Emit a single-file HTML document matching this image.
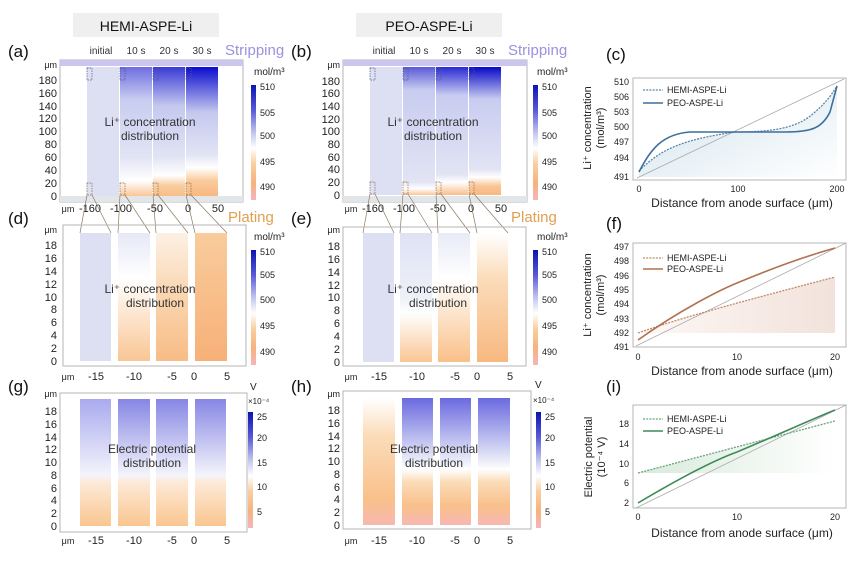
<!DOCTYPE html>
<html><head><meta charset="utf-8"><style>
html,body{margin:0;padding:0;background:#fff;}
svg{display:block;font-family:"Liberation Sans",Arial,sans-serif;}
.t{font-size:11px;fill:#222;}
.ts{font-size:10px;fill:#333;}
.c{font-size:9px;fill:#222;}
.lab{font-size:17px;fill:#111;}
.fr{fill:none;stroke:#b5b5b5;stroke-width:1;}
.cl{stroke:#8a7a62;stroke-width:0.7;fill:none;}
</style></head><body>
<svg width="865" height="562" viewBox="0 0 865 562" xmlns="http://www.w3.org/2000/svg">
<defs>
<linearGradient id="cb" x1="0" y1="0" x2="0" y2="1">
<stop offset="0" stop-color="#0a14b0"/><stop offset="0.22" stop-color="#5a5ad8"/><stop offset="0.42" stop-color="#c4c8ee"/><stop offset="0.55" stop-color="#ffffff"/><stop offset="0.68" stop-color="#f9d0a2"/><stop offset="0.85" stop-color="#f8b27c"/><stop offset="1" stop-color="#f6b4bc"/></linearGradient>
<linearGradient id="a2" x1="0" y1="0" x2="0" y2="1"><stop offset="0" stop-color="#6e6ee0"/><stop offset="0.25" stop-color="#c8ccf0"/><stop offset="0.7" stop-color="#e2e4f4"/><stop offset="0.88" stop-color="#ffffff"/><stop offset="1" stop-color="#f9c698"/></linearGradient>
<linearGradient id="a3" x1="0" y1="0" x2="0" y2="1"><stop offset="0" stop-color="#3a3ad6"/><stop offset="0.3" stop-color="#c4c8ee"/><stop offset="0.7" stop-color="#e2e4f4"/><stop offset="0.84" stop-color="#ffffff"/><stop offset="0.92" stop-color="#f9cc9e"/><stop offset="1" stop-color="#f8be8a"/></linearGradient>
<linearGradient id="a4" x1="0" y1="0" x2="0" y2="1"><stop offset="0" stop-color="#0c0cd0"/><stop offset="0.35" stop-color="#c4c8ee"/><stop offset="0.68" stop-color="#e2e4f4"/><stop offset="0.78" stop-color="#ffffff"/><stop offset="0.88" stop-color="#f9cc9e"/><stop offset="1" stop-color="#f8b880"/></linearGradient>
<linearGradient id="b2" x1="0" y1="0" x2="0" y2="1"><stop offset="0" stop-color="#5a5ad8"/><stop offset="0.18" stop-color="#c8ccf0"/><stop offset="0.9" stop-color="#e2e4f4"/><stop offset="0.95" stop-color="#ffffff"/><stop offset="1" stop-color="#f9c698"/></linearGradient>
<linearGradient id="b3" x1="0" y1="0" x2="0" y2="1"><stop offset="0" stop-color="#2a2ad4"/><stop offset="0.22" stop-color="#c8ccf0"/><stop offset="0.84" stop-color="#e2e4f4"/><stop offset="0.9" stop-color="#ffffff"/><stop offset="1" stop-color="#f8be8a"/></linearGradient>
<linearGradient id="b4" x1="0" y1="0" x2="0" y2="1"><stop offset="0" stop-color="#0808c8"/><stop offset="0.25" stop-color="#c8ccf0"/><stop offset="0.8" stop-color="#e2e4f4"/><stop offset="0.86" stop-color="#ffffff"/><stop offset="0.93" stop-color="#f9c698"/><stop offset="1" stop-color="#f8b880"/></linearGradient>
<linearGradient id="d2" x1="0" y1="0" x2="0" y2="1"><stop offset="0" stop-color="#e6e8f6"/><stop offset="0.35" stop-color="#ffffff"/><stop offset="1" stop-color="#f9c694"/></linearGradient>
<linearGradient id="d3" x1="0" y1="0" x2="0" y2="1"><stop offset="0" stop-color="#fcf0e4"/><stop offset="0.5" stop-color="#fad5ae"/><stop offset="1" stop-color="#f8bc86"/></linearGradient>
<linearGradient id="d4" x1="0" y1="0" x2="0" y2="1"><stop offset="0" stop-color="#f9cc9c"/><stop offset="1" stop-color="#f7b078"/></linearGradient>
<linearGradient id="e2" x1="0" y1="0" x2="0" y2="1"><stop offset="0" stop-color="#dfe2f4"/><stop offset="0.5" stop-color="#eef0f8"/><stop offset="0.62" stop-color="#ffffff"/><stop offset="1" stop-color="#f9c694"/></linearGradient>
<linearGradient id="e3" x1="0" y1="0" x2="0" y2="1"><stop offset="0" stop-color="#e8eaf6"/><stop offset="0.35" stop-color="#ffffff"/><stop offset="1" stop-color="#f9c088"/></linearGradient>
<linearGradient id="e4" x1="0" y1="0" x2="0" y2="1"><stop offset="0" stop-color="#ffffff"/><stop offset="0.35" stop-color="#fbdcba"/><stop offset="1" stop-color="#f8b880"/></linearGradient>
<linearGradient id="g1" x1="0" y1="0" x2="0" y2="1"><stop offset="0" stop-color="#a8aaee"/><stop offset="0.6" stop-color="#f4f4fb"/><stop offset="0.66" stop-color="#fde9d6"/><stop offset="1" stop-color="#f9c690"/></linearGradient>
<linearGradient id="g2" x1="0" y1="0" x2="0" y2="1"><stop offset="0" stop-color="#8686e4"/><stop offset="0.6" stop-color="#f4f4fb"/><stop offset="0.66" stop-color="#fde9d6"/><stop offset="1" stop-color="#f9c690"/></linearGradient>
<linearGradient id="h1" x1="0" y1="0" x2="0" y2="1"><stop offset="0" stop-color="#ffffff"/><stop offset="0.3" stop-color="#fbdcb8"/><stop offset="0.8" stop-color="#f9c08a"/><stop offset="1" stop-color="#f7b8b0"/></linearGradient>
<linearGradient id="h2" x1="0" y1="0" x2="0" y2="1"><stop offset="0" stop-color="#6a6ae0"/><stop offset="0.5" stop-color="#eceef8"/><stop offset="0.56" stop-color="#ffffff"/><stop offset="0.66" stop-color="#fbdcb8"/><stop offset="0.85" stop-color="#f9c08a"/><stop offset="1" stop-color="#f7b8b4"/></linearGradient>
<linearGradient id="fc" x1="0" y1="0" x2="1" y2="1"><stop offset="0" stop-color="#cfe2ec"/><stop offset="1" stop-color="#ffffff"/></linearGradient>
<linearGradient id="ff" x1="1" y1="0" x2="0" y2="0"><stop offset="0" stop-color="#f2e2db"/><stop offset="1" stop-color="#fdf8f6"/></linearGradient>
<linearGradient id="fi" x1="0" y1="0" x2="1" y2="0"><stop offset="0" stop-color="#d8eadb"/><stop offset="1" stop-color="#ffffff"/></linearGradient>
</defs>

<!-- Titles -->
<rect x="73" y="13" width="146" height="24" fill="#efefef"/>
<text x="146" y="31" text-anchor="middle" style="font-size:14px" fill="#111">HEMI-ASPE-Li</text>
<rect x="356" y="13" width="146" height="24" fill="#efefef"/>
<text x="429" y="31" text-anchor="middle" style="font-size:14px" fill="#111">PEO-ASPE-Li</text>

<!-- ===== (a) ===== -->
<text x="8" y="57" class="lab">(a)</text>
<g class="ts"><text x="101" y="54" text-anchor="middle">initial</text><text x="136" y="54" text-anchor="middle">10 s</text><text x="169" y="54" text-anchor="middle">20 s</text><text x="202" y="54" text-anchor="middle">30 s</text></g>
<text x="225" y="55" style="font-size:15px" fill="#9a92dc">Stripping</text>
<rect x="60" y="60" width="183" height="142" class="fr"/>
<rect x="60" y="60" width="183" height="6" fill="#cac6f0"/>
<rect x="60" y="196" width="183" height="6" fill="#e2e6e8"/>
<rect x="87" y="67" width="32" height="129" fill="#dde0f3"/>
<rect x="120" y="67" width="32" height="129" fill="url(#a2)"/>
<rect x="153" y="67" width="32" height="129" fill="url(#a3)"/>
<rect x="186" y="67" width="32" height="129" fill="url(#a4)"/>
<g fill="none" stroke="#55558a" stroke-width="0.7" stroke-dasharray="1.5,1">
<rect x="87" y="68" width="5" height="12"/><rect x="120" y="68" width="5" height="12"/><rect x="153" y="68" width="5" height="12"/><rect x="186" y="68" width="5" height="12"/></g>
<g fill="none" stroke="#8a6a4a" stroke-width="0.7" stroke-dasharray="1.5,1">
<rect x="87" y="183" width="5" height="12"/><rect x="120" y="183" width="5" height="12"/><rect x="153" y="183" width="5" height="12"/><rect x="186" y="183" width="5" height="12"/></g>
<g class="t" text-anchor="end"><text x="57" y="68" style="font-size:9px">μm</text>
<text x="57" y="84">180</text><text x="57" y="97">160</text><text x="57" y="110">140</text><text x="57" y="122">120</text><text x="57" y="135">100</text><text x="57" y="148">80</text><text x="57" y="161">60</text><text x="57" y="174">40</text><text x="57" y="187">20</text><text x="57" y="200">0</text></g>
<text x="150" y="126" text-anchor="middle" style="font-size:12px" fill="#333">Li⁺ concentration</text>
<text x="150" y="140" text-anchor="middle" style="font-size:12px" fill="#333">distribution</text>
<text x="254" y="75" class="c" style="font-size:10px">mol/m³</text>
<rect x="251" y="85" width="5" height="115" fill="url(#cb)"/>
<g class="c"><text x="260" y="90">510</text><text x="260" y="116">505</text><text x="260" y="139">500</text><text x="260" y="165">495</text><text x="260" y="190">490</text></g>
<g class="t" text-anchor="middle"><text x="68" y="212" style="font-size:9px">μm</text><text x="90" y="212">-160</text><text x="121" y="212">-100</text><text x="155" y="212">-50</text><text x="188" y="212">0</text><text x="218" y="212">50</text></g>
<g class="cl"><line x1="87" y1="195" x2="80" y2="233"/><line x1="92" y1="195" x2="111" y2="233"/><line x1="120" y1="195" x2="118" y2="233"/><line x1="125" y1="195" x2="150" y2="233"/><line x1="153" y1="195" x2="156" y2="233"/><line x1="158" y1="195" x2="188" y2="233"/><line x1="186" y1="195" x2="195" y2="233"/><line x1="191" y1="195" x2="227" y2="233"/></g>

<!-- ===== (b) ===== -->
<text x="291" y="57" class="lab">(b)</text>
<g class="ts"><text x="384" y="54" text-anchor="middle">initial</text><text x="419" y="54" text-anchor="middle">10 s</text><text x="452" y="54" text-anchor="middle">20 s</text><text x="485" y="54" text-anchor="middle">30 s</text></g>
<text x="508" y="55" style="font-size:15px" fill="#9a92dc">Stripping</text>
<rect x="343" y="60" width="184" height="142" class="fr"/>
<rect x="343" y="60" width="184" height="6" fill="#cac6f0"/>
<rect x="343" y="196" width="184" height="6" fill="#e2e6e8"/>
<rect x="370" y="67" width="32" height="128" fill="#dde0f3"/>
<rect x="403" y="67" width="32" height="128" fill="url(#b2)"/>
<rect x="436" y="67" width="32" height="128" fill="url(#b3)"/>
<rect x="469" y="67" width="32" height="128" fill="url(#b4)"/>
<g fill="none" stroke="#55558a" stroke-width="0.7" stroke-dasharray="1.5,1">
<rect x="370" y="68" width="5" height="12"/><rect x="403" y="68" width="5" height="12"/><rect x="436" y="68" width="5" height="12"/><rect x="469" y="68" width="5" height="12"/></g>
<g fill="none" stroke="#8a6a4a" stroke-width="0.7" stroke-dasharray="1.5,1">
<rect x="370" y="182" width="5" height="12"/><rect x="403" y="182" width="5" height="12"/><rect x="436" y="182" width="5" height="12"/><rect x="469" y="182" width="5" height="12"/></g>
<g class="t" text-anchor="end"><text x="340" y="68" style="font-size:9px">μm</text>
<text x="340" y="85">180</text><text x="340" y="97">160</text><text x="340" y="110">140</text><text x="340" y="123">120</text><text x="340" y="135">100</text><text x="340" y="148">80</text><text x="340" y="161">60</text><text x="340" y="173">40</text><text x="340" y="186">20</text><text x="340" y="199">0</text></g>
<text x="433" y="126" text-anchor="middle" style="font-size:12px" fill="#333">Li⁺ concentration</text>
<text x="433" y="140" text-anchor="middle" style="font-size:12px" fill="#333">distribution</text>
<text x="537" y="75" class="c" style="font-size:10px">mol/m³</text>
<rect x="533" y="85" width="5" height="115" fill="url(#cb)"/>
<g class="c"><text x="542" y="90">510</text><text x="542" y="116">505</text><text x="542" y="139">500</text><text x="542" y="165">495</text><text x="542" y="190">490</text></g>
<g class="t" text-anchor="middle"><text x="351" y="212" style="font-size:9px">μm</text><text x="373" y="212">-160</text><text x="404" y="212">-100</text><text x="438" y="212">-50</text><text x="471" y="212">0</text><text x="501" y="212">50</text></g>
<g class="cl"><line x1="370" y1="194" x2="363" y2="233"/><line x1="375" y1="194" x2="394" y2="233"/><line x1="403" y1="194" x2="400" y2="233"/><line x1="408" y1="194" x2="432" y2="233"/><line x1="436" y1="194" x2="438" y2="233"/><line x1="441" y1="194" x2="470" y2="233"/><line x1="469" y1="194" x2="477" y2="233"/><line x1="474" y1="194" x2="508" y2="233"/></g>

<!-- ===== (d) ===== -->
<text x="8" y="224" class="lab">(d)</text>
<text x="228" y="222" style="font-size:15px" fill="#e0a050">Plating</text>
<rect x="63" y="225" width="183" height="141" class="fr"/>
<rect x="80" y="233" width="31" height="128" fill="#dde0f3"/>
<rect x="118" y="233" width="32" height="128" fill="url(#d2)"/>
<rect x="156" y="233" width="32" height="128" fill="url(#d3)"/>
<rect x="195" y="233" width="32" height="128" fill="url(#d4)"/>
<g class="t" text-anchor="end"><text x="57" y="233" style="font-size:9px">μm</text>
<text x="57" y="249">18</text><text x="57" y="262">16</text><text x="57" y="275">14</text><text x="57" y="288">12</text><text x="57" y="301">10</text><text x="57" y="313">8</text><text x="57" y="326">6</text><text x="57" y="339">4</text><text x="57" y="352">2</text><text x="57" y="365">0</text></g>
<text x="150" y="293" text-anchor="middle" style="font-size:12px" fill="#333">Li⁺ concentration</text>
<text x="155" y="307" text-anchor="middle" style="font-size:12px" fill="#333">distribution</text>
<text x="254" y="240" class="c" style="font-size:10px">mol/m³</text>
<rect x="251" y="250" width="5" height="115" fill="url(#cb)"/>
<g class="c"><text x="260" y="255">510</text><text x="260" y="278">505</text><text x="260" y="303">500</text><text x="260" y="329">495</text><text x="260" y="355">490</text></g>
<g class="t" text-anchor="middle"><text x="68" y="380" style="font-size:9px">μm</text><text x="96" y="380">-15</text><text x="134" y="380">-10</text><text x="172" y="380">-5</text><text x="194" y="380">0</text><text x="227" y="380">5</text></g>

<!-- ===== (e) ===== -->
<text x="291" y="224" class="lab">(e)</text>
<text x="511" y="222" style="font-size:15px" fill="#e0a050">Plating</text>
<rect x="343" y="227" width="183" height="139" class="fr"/>
<rect x="363" y="233" width="31" height="129" fill="#dde0f3"/>
<rect x="400" y="233" width="32" height="129" fill="url(#e2)"/>
<rect x="438" y="233" width="32" height="129" fill="url(#e3)"/>
<rect x="477" y="233" width="31" height="129" fill="url(#e4)"/>
<g class="t" text-anchor="end"><text x="340" y="233" style="font-size:9px">μm</text>
<text x="340" y="250">18</text><text x="340" y="263">16</text><text x="340" y="276">14</text><text x="340" y="289">12</text><text x="340" y="301">10</text><text x="340" y="314">8</text><text x="340" y="327">6</text><text x="340" y="340">4</text><text x="340" y="353">2</text><text x="340" y="366">0</text></g>
<text x="433" y="293" text-anchor="middle" style="font-size:12px" fill="#333">Li⁺ concentration</text>
<text x="438" y="307" text-anchor="middle" style="font-size:12px" fill="#333">distribution</text>
<text x="537" y="240" class="c" style="font-size:10px">mol/m³</text>
<rect x="533" y="250" width="5" height="115" fill="url(#cb)"/>
<g class="c"><text x="542" y="255">510</text><text x="542" y="278">505</text><text x="542" y="303">500</text><text x="542" y="329">495</text><text x="542" y="355">490</text></g>
<g class="t" text-anchor="middle"><text x="351" y="380" style="font-size:9px">μm</text><text x="379" y="380">-15</text><text x="417" y="380">-10</text><text x="455" y="380">-5</text><text x="477" y="380">0</text><text x="510" y="380">5</text></g>

<!-- ===== (g) ===== -->
<text x="8" y="392" class="lab">(g)</text>
<rect x="60" y="393" width="187" height="139" class="fr"/>
<rect x="80" y="399" width="31" height="127" fill="url(#g1)"/>
<rect x="118" y="399" width="32" height="127" fill="url(#g2)"/>
<rect x="156" y="399" width="32" height="127" fill="url(#g2)"/>
<rect x="195" y="399" width="31" height="127" fill="url(#g2)"/>
<g class="t" text-anchor="end"><text x="57" y="397" style="font-size:9px">μm</text>
<text x="57" y="415">18</text><text x="57" y="428">16</text><text x="57" y="441">14</text><text x="57" y="453">12</text><text x="57" y="466">10</text><text x="57" y="479">8</text><text x="57" y="492">6</text><text x="57" y="504">4</text><text x="57" y="517">2</text><text x="57" y="530">0</text></g>
<text x="152" y="453" text-anchor="middle" style="font-size:12px" fill="#333">Electric potential</text>
<text x="152" y="467" text-anchor="middle" style="font-size:12px" fill="#333">distribution</text>
<text x="250" y="390" class="c" style="font-size:10px">V</text>
<text x="248" y="404" class="c" style="font-size:8px">×10⁻⁴</text>
<rect x="248" y="412" width="5" height="116" fill="url(#cb)"/>
<g class="c"><text x="257" y="420">25</text><text x="257" y="441">20</text><text x="257" y="466">15</text><text x="257" y="490">10</text><text x="257" y="515">5</text></g>
<g class="t" text-anchor="middle"><text x="68" y="544" style="font-size:9px">μm</text><text x="96" y="544">-15</text><text x="134" y="544">-10</text><text x="172" y="544">-5</text><text x="194" y="544">0</text><text x="227" y="544">5</text></g>

<!-- ===== (h) ===== -->
<text x="291" y="392" class="lab">(h)</text>
<rect x="343" y="391" width="188" height="138" class="fr"/>
<rect x="363" y="398" width="32" height="127" fill="url(#h1)"/>
<rect x="402" y="398" width="31" height="127" fill="url(#h2)"/>
<rect x="440" y="398" width="31" height="127" fill="url(#h2)"/>
<rect x="478" y="398" width="32" height="127" fill="url(#h2)"/>
<g class="t" text-anchor="end"><text x="340" y="397" style="font-size:9px">μm</text>
<text x="340" y="414">18</text><text x="340" y="427">16</text><text x="340" y="440">14</text><text x="340" y="452">12</text><text x="340" y="465">10</text><text x="340" y="478">8</text><text x="340" y="491">6</text><text x="340" y="503">4</text><text x="340" y="516">2</text><text x="340" y="529">0</text></g>
<text x="434" y="453" text-anchor="middle" style="font-size:12px" fill="#333">Electric potential</text>
<text x="434" y="467" text-anchor="middle" style="font-size:12px" fill="#333">distribution</text>
<text x="535" y="388" class="c" style="font-size:10px">V</text>
<text x="533" y="403" class="c" style="font-size:8px">×10⁻⁴</text>
<rect x="536" y="412" width="5" height="116" fill="url(#cb)"/>
<g class="c"><text x="545" y="420">25</text><text x="545" y="441">20</text><text x="545" y="466">15</text><text x="545" y="490">10</text><text x="545" y="515">5</text></g>
<g class="t" text-anchor="middle"><text x="351" y="544" style="font-size:9px">μm</text><text x="379" y="544">-15</text><text x="417" y="544">-10</text><text x="455" y="544">-5</text><text x="477" y="544">0</text><text x="510" y="544">5</text></g>

<!-- ===== (c) ===== -->
<text x="606" y="60" class="lab">(c)</text>
<path d="M639,171 C660,150 680,140 735,132 C780,132 800,126 815,112 C828,101 833,92 837,86 L837,177 L639,177 Z" fill="url(#fc)"/>
<rect x="633" y="78" width="213" height="102" class="fr"/>
<line x1="637" y1="178" x2="844" y2="79" stroke="#aaa" stroke-width="0.8"/>
<path d="M639,171 C660,150 680,140 735,132 C780,132 800,126 815,112 C828,101 833,92 837,86" fill="none" stroke="#5b87ad" stroke-width="1.3" stroke-dasharray="2,1.2"/>
<path d="M639,172 C650,150 662,134 690,132 L785,132 C812,132 822,128 830,112 L837,86" fill="none" stroke="#3e6f9c" stroke-width="1.6"/>
<g class="c" text-anchor="end"><text x="629" y="85">510</text><text x="629" y="100">506</text><text x="629" y="115">503</text><text x="629" y="130">500</text><text x="629" y="145">497</text><text x="629" y="161">494</text><text x="629" y="180">491</text></g>
<g class="c" text-anchor="middle"><text x="639" y="192">0</text><text x="738" y="192">100</text><text x="837" y="192">200</text></g>
<line x1="643" y1="90" x2="663" y2="90" stroke="#5b87ad" stroke-width="1.2" stroke-dasharray="2,1.2"/>
<text x="667" y="93" class="c">HEMI-ASPE-Li</text>
<line x1="643" y1="103" x2="663" y2="103" stroke="#3e6f9c" stroke-width="1.5"/>
<text x="667" y="106" class="c">PEO-ASPE-Li</text>
<text x="742" y="207" text-anchor="middle" style="font-size:12px" fill="#222">Distance from anode surface (μm)</text>
<text transform="translate(591,128) rotate(-90)" text-anchor="middle" style="font-size:11px" fill="#222">Li⁺ concentration</text>
<text transform="translate(604,128) rotate(-90)" text-anchor="middle" style="font-size:11px" fill="#222">(mol/m³)</text>

<!-- ===== (f) ===== -->
<text x="606" y="229" class="lab">(f)</text>
<path d="M638,333 C680,318 740,302 835,277 L835,333 Z" fill="url(#ff)"/>
<rect x="633" y="243" width="213" height="104" class="fr"/>
<line x1="636" y1="346" x2="846" y2="243" stroke="#aaa" stroke-width="0.8"/>
<path d="M638,333 C680,318 740,302 835,277" fill="none" stroke="#c08a6a" stroke-width="1.3" stroke-dasharray="2,1.2"/>
<path d="M638,340 C680,310 720,290 737,283 C780,265 810,255 835,248" fill="none" stroke="#b0724f" stroke-width="1.6"/>
<g class="c" text-anchor="end"><text x="629" y="250">497</text><text x="629" y="264">498</text><text x="629" y="279">496</text><text x="629" y="293">495</text><text x="629" y="307">494</text><text x="629" y="322">493</text><text x="629" y="336">492</text><text x="629" y="350">491</text></g>
<g class="c" text-anchor="middle"><text x="638" y="360">0</text><text x="737" y="360">10</text><text x="835" y="360">20</text></g>
<line x1="643" y1="258" x2="663" y2="258" stroke="#c08a6a" stroke-width="1.2" stroke-dasharray="2,1.2"/>
<text x="667" y="261" class="c">HEMI-ASPE-Li</text>
<line x1="643" y1="269" x2="663" y2="269" stroke="#b0724f" stroke-width="1.5"/>
<text x="667" y="272" class="c">PEO-ASPE-Li</text>
<text x="742" y="375" text-anchor="middle" style="font-size:12px" fill="#222">Distance from anode surface (μm)</text>
<text transform="translate(591,295) rotate(-90)" text-anchor="middle" style="font-size:11px" fill="#222">Li⁺ concentration</text>
<text transform="translate(604,295) rotate(-90)" text-anchor="middle" style="font-size:11px" fill="#222">(mol/m³)</text>

<!-- ===== (i) ===== -->
<text x="606" y="392" class="lab">(i)</text>
<path d="M638,473 L835,421 L835,473 Z" fill="url(#fi)"/>
<rect x="633" y="405" width="213" height="103" class="fr"/>
<line x1="636" y1="508" x2="846" y2="405" stroke="#aaa" stroke-width="0.8"/>
<path d="M638,473 L835,421" fill="none" stroke="#6aa47c" stroke-width="1.3" stroke-dasharray="2,1.2"/>
<path d="M638,503 C680,478 715,460 737,452 C780,434 810,420 835,410" fill="none" stroke="#3f8a5a" stroke-width="1.6"/>
<g class="c" text-anchor="end"><text x="629" y="427">18</text><text x="629" y="447">14</text><text x="629" y="467">10</text><text x="629" y="486">6</text><text x="629" y="506">2</text></g>
<g class="c" text-anchor="middle"><text x="638" y="520">0</text><text x="737" y="520">10</text><text x="835" y="520">20</text></g>
<line x1="643" y1="419" x2="663" y2="419" stroke="#6aa47c" stroke-width="1.2" stroke-dasharray="2,1.2"/>
<text x="667" y="422" class="c">HEMI-ASPE-Li</text>
<line x1="643" y1="431" x2="663" y2="431" stroke="#3f8a5a" stroke-width="1.5"/>
<text x="667" y="434" class="c">PEO-ASPE-Li</text>
<text x="742" y="537" text-anchor="middle" style="font-size:12px" fill="#222">Distance from anode surface (μm)</text>
<text transform="translate(592,457) rotate(-90)" text-anchor="middle" style="font-size:11px" fill="#222">Electric potential</text>
<text transform="translate(605,457) rotate(-90)" text-anchor="middle" style="font-size:11px" fill="#222">(10⁻⁴ V)</text>
</svg>
</body></html>
